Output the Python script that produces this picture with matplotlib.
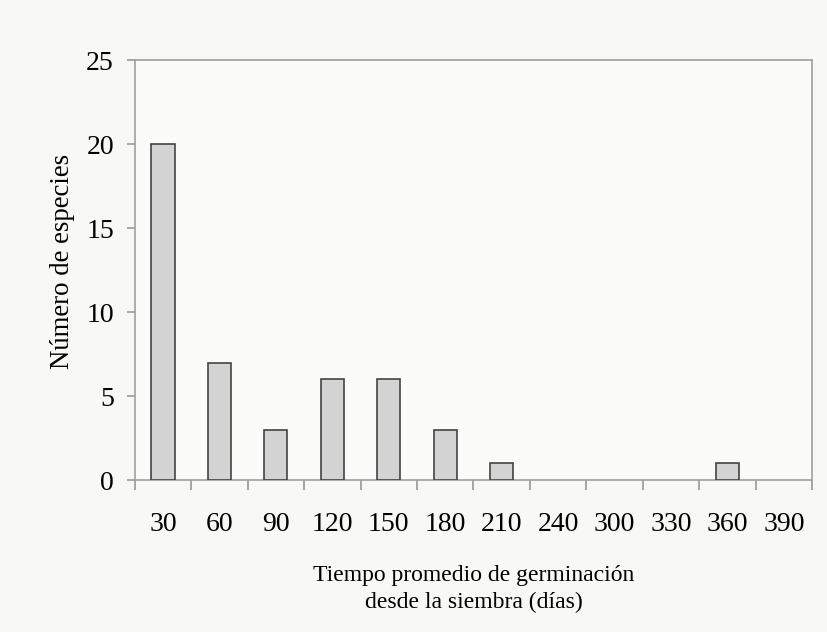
import matplotlib.pyplot as plt
import numpy as np

# Datos
categorias = ["30", "60", "90", "120", "150", "180", "210", "240", "300", "330", "360", "390"]
num_especies = [20, 7, 3, 6, 6, 3, 1, 0, 0, 0, 1, 0]

plt.rcParams["font.family"] = ["Liberation Serif", "DejaVu Serif"]

fig = plt.figure(figsize=(8.27, 6.32), dpi=100, facecolor="#f8f8f6")
ax = fig.add_axes([0.163, 0.2405, 0.819, 0.664])
ax.set_facecolor("#fbfbfa")

x = np.arange(len(categorias))
bars = ax.bar(x, num_especies, width=0.41, color="#d3d3d3", edgecolor="#444444", linewidth=1.2, zorder=3)
# barras con valor cero no se ven en el original
for b, v in zip(bars, num_especies):
    if v == 0:
        b.set_linewidth(0)

ax.set_xlim(-0.5, len(categorias) - 0.5)
ax.set_ylim(0, 25)
ax.set_yticks(range(0, 26, 5))

# etiquetas en el centro, marcas entre categorías
ax.set_xticks(x)
ax.set_xticklabels(categorias)
ax.set_xticks(np.arange(len(categorias) + 1) - 0.5, minor=True)
ax.tick_params(axis="x", which="major", length=0, pad=23, labelsize=20)
ax.tick_params(axis="x", which="minor", length=7, color="#999999", width=1.2)
ax.tick_params(axis="y", length=6, color="#999999", width=1.2, pad=9, labelsize=20)

for s in ax.spines.values():
    s.set_color("#a0a0a0")
    s.set_linewidth(1.2)

ax.set_ylabel("Número de especies", fontsize=19.3)
ax.yaxis.set_label_coords(-0.088, 0.52)
ax.set_xlabel("Tiempo promedio de germinación\ndesde la siembra (días)", fontsize=17,
              labelpad=20, linespacing=1.35)

fig.savefig("out.png", dpi=100, facecolor=fig.get_facecolor())
